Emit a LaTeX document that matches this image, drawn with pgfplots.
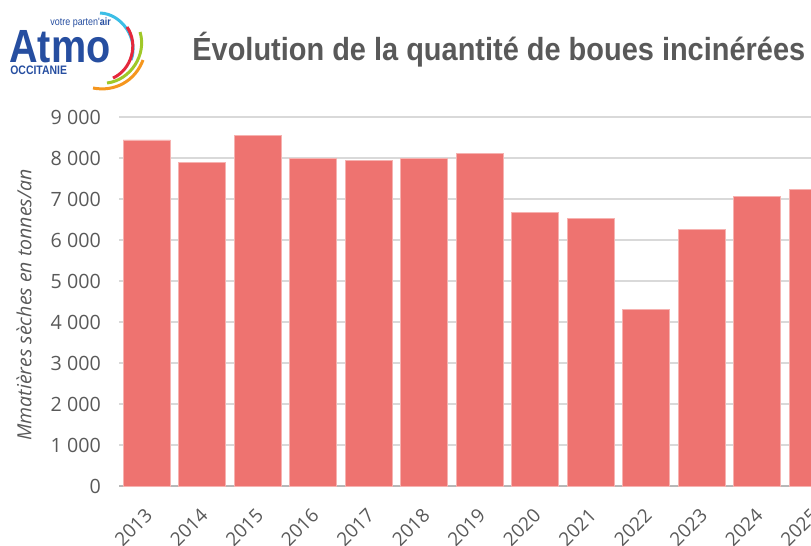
\documentclass[border=0pt]{standalone}
\usepackage{pgfplots}
\pgfplotsset{compat=1.18}
\usepackage{fontspec}
\setmainfont{Open Sans}
\newfontfamily\titlefont[FakeStretch=0.905]{Liberation Sans}
\newfontfamily\logofont[FakeStretch=0.85]{Liberation Sans}
\definecolor{barred}{RGB}{238,115,112}
\definecolor{txtgrey}{RGB}{89,89,89}
\definecolor{gridgrey}{RGB}{217,217,217}
\definecolor{atmoblue}{RGB}{38,78,160}
\definecolor{arccyan}{RGB}{60,190,230}
\definecolor{arcred}{RGB}{228,40,60}
\definecolor{arcgreen}{RGB}{160,200,40}
\definecolor{arcorange}{RGB}{245,150,30}

\pgfplotstableread{
x y
0 8440
1 7900
2 8560
3 7990
4 7930
5 7990
6 8120
7 6670
8 6520
9 4300
10 6260
11 7070
12 7240
}\boues

\begin{document}
\begin{tikzpicture}
% logo and title, 1 unit = 1 px of the reference
\begin{scope}[x=0.02cm,y=0.02cm]
\node[anchor=base west, inner sep=0pt, text=atmoblue] at (9,-62)
  {\logofont\bfseries\fontsize{26.5}{26.5}\selectfont Atmo};
\node[anchor=base west, inner sep=0pt, text=atmoblue] at (10,-74)
  {\logofont\bfseries\fontsize{7}{7}\selectfont OCCITANIE};
\node[anchor=base west, inner sep=0pt, text=atmoblue] at (50,-25)
  {\logofont\fontsize{6}{6}\selectfont votre parten'\textbf{air}};
\draw[arccyan, line width=0.06cm] (100,-13) to[bend left=55] (131,-60);
\draw[arcred, line width=0.06cm] (127,-27) to[bend left=50] (113,-78);
\draw[arcgreen, line width=0.06cm] (140,-32) to[bend left=50] (107,-83);
\draw[arcorange, line width=0.06cm] (143,-60) to[bend left=40] (93,-88);
\node[anchor=base west, inner sep=0pt, text=txtgrey] at (192,-60)
  {\titlefont\bfseries\fontsize{18.2}{21}\selectfont Évolution de la quantité de boues incinérées};
\end{scope}

\begin{axis}[
  at={(2.38cm,-9.72cm)}, anchor=south west,
  scale only axis, width=14.43cm, height=7.38cm,
  xmin=-0.5, xmax=12.5, ymin=0, ymax=9000,
  ybar, bar width=0.85,
  axis x line*=bottom, axis y line*=left,
  x axis line style={draw=gridgrey!85!black, line width=0.6pt},
  y axis line style={draw=none},
  xtick={0,...,12},
  xticklabels={2013,2014,2015,2016,2017,2018,2019,2020,2021,2022,2023,2024,2025},
  extra x ticks={-0.5,0.5,...,12.5},
  extra x tick labels={},
  extra x tick style={major tick length=0.12cm, tick align=outside,
    tick style={draw=gridgrey!85!black, line width=0.6pt}},
  xtick style={draw=none},
  ytick={0,1000,...,9000},
  ytick style={draw=none},
  ymajorgrids,
  grid style={draw=gridgrey, line width=0.8pt},
  /pgf/number format/assume math mode=true,
  /pgf/number format/1000 sep={\ },
  yticklabel style={font=\fontsize{11.2}{13}\selectfont, text=txtgrey,
    anchor=east, xshift=-0.24cm},
  xticklabel style={font=\fontsize{10.8}{12}\selectfont, text=txtgrey,
    xshift=-0.06cm, yshift=-0.26cm, rotate=45, anchor=north east, inner sep=0pt},
  ylabel={\itshape Mmatières sèches en tonnes/an},
  every axis y label/.style={at={(-1.9cm,3.62cm)}, rotate=90, anchor=center,
    font=\fontsize{11.1}{13}\selectfont, text=txtgrey},
  clip=false,
]
\addplot[fill=barred, draw=barred!55!white, line width=0.5pt] table[x=x,y=y] {\boues};
\end{axis}
\pgfresetboundingbox
\path (0,0) rectangle (16.22cm,-10.9cm);
\end{tikzpicture}
\end{document}
